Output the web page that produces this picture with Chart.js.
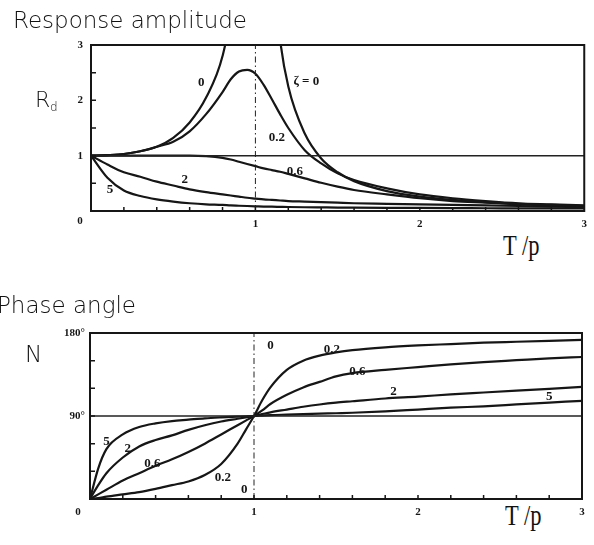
<!DOCTYPE html>
<html>
<head>
<meta charset="utf-8">
<script src="https://cdn.jsdelivr.net/npm/chart.js@4.4.1/dist/chart.umd.min.js"></script>
<style>
  body { margin: 0; background: #fff; width: 594px; height: 545px; position: relative; overflow: hidden; }
  canvas { position: absolute; left: 0; }
  .txt { position: absolute; white-space: nowrap; line-height: 1; color: #111; will-change: transform;
         font-family: "DejaVu Sans", sans-serif; font-weight: 200; }
  .wq { position: absolute; white-space: nowrap; line-height: 1; color: #111;
        font-family: "Liberation Serif", serif; font-size: 30px; transform: scaleX(0.75); transform-origin: left top; }
</style>
</head>
<body>
<div class="txt" style="left:13px;top:9px;font-size:23px">Response amplitude</div>
<div class="txt" style="left:35px;top:89px;font-size:22px">R</div>
<div class="txt" style="left:50px;top:101px;font-size:12px">d</div>
<div class="wq" style="left:503px;top:230px">T /p</div>
<canvas id="amp" width="594" height="270" style="top:0"></canvas>

<div class="txt" style="left:-3px;top:294px;font-size:23px">Phase angle</div>
<div class="txt" style="left:25px;top:343px;font-size:23px">N</div>
<div class="wq" style="left:505px;top:500px">T /p</div>
<canvas id="phase" width="594" height="275" style="top:270px"></canvas>

<script>
// frequency ratio (x axis), shared tick labels
const xTickValues = [1, 2, 3];

// Response amplitude Rd
const ampRatio  = [0, 0.1, 0.2, 0.3, 0.4, 0.5, 0.6, 0.7, 0.8, 0.85, 0.9, 0.95, 1.0, 1.05, 1.1, 1.15, 1.2, 1.3, 1.4, 1.5, 1.6, 1.8, 2.0, 2.2, 2.4, 2.6, 2.8, 3.0];
const ampZeta0  = [1, 1.01, 1.03, 1.08, 1.16, 1.32, 1.6, 2.05, 2.8, 3.6, 5.3, null, null, null, 4.8, 3.1, 2.25, 1.4, 0.95, 0.7, 0.54, 0.36, 0.26, 0.2, 0.16, 0.13, 0.11, 0.09];
const ampZeta02 = [1, 1.01, 1.03, 1.08, 1.16, 1.25, 1.44, 1.75, 2.15, 2.38, 2.52, 2.55, 2.48, 2.28, 2.02, 1.75, 1.5, 1.1, 0.86, 0.68, 0.56, 0.41, 0.3, 0.23, 0.18, 0.14, 0.12, 0.1];
const ampZeta06 = [1, 1, 1, 1, 1, 1, 1, 0.99, 0.96, 0.93, 0.89, 0.85, 0.81, 0.77, 0.74, 0.71, 0.67, 0.59, 0.51, 0.44, 0.38, 0.3, 0.23, 0.18, 0.15, 0.12, 0.1, 0.09];
const ampZeta2  = [1, 0.84, 0.7, 0.62, 0.53, 0.46, 0.39, 0.34, 0.3, 0.28, 0.26, 0.24, 0.225, 0.21, 0.2, 0.19, 0.18, 0.17, 0.16, 0.15, 0.14, 0.13, 0.12, 0.11, 0.1, 0.09, 0.08, 0.07];
const ampZeta5  = [1, 0.6, 0.37, 0.27, 0.21, 0.17, 0.14, 0.12, 0.11, 0.1, 0.095, 0.09, 0.085, 0.08, 0.078, 0.075, 0.072, 0.068, 0.065, 0.062, 0.06, 0.057, 0.055, 0.053, 0.05, 0.048, 0.046, 0.045];
const ampTicks  = [1, 2, 3];
const ampLabelText = ['0', 'ζ = 0', '0.2', '0.6', '2', '5'];
const ampLabelX    = [0.67, 1.31, 1.13, 1.24, 0.57, 0.115];
const ampLabelY    = [2.32, 2.34, 1.33, 0.72, 0.56, 0.38];

// Phase angle in degrees
const phaseRatio  = [0, 0.05, 0.1, 0.2, 0.3, 0.4, 0.5, 0.6, 0.7, 0.8, 0.9, 0.95, 1.0, 1.05, 1.1, 1.2, 1.3, 1.4, 1.5, 1.6, 1.8, 2.0, 2.2, 2.4, 2.6, 2.8, 3.0];
const phaseZeta02 = [0, 1, 2.5, 5, 7.5, 11, 15, 19, 26, 38, 60, 75, 90, 107, 121, 140, 150, 155.5, 159, 161.5, 164.5, 166.5, 168, 169.5, 170.5, 171.5, 172.5];
const phaseZeta06 = [0, 5, 10, 20, 28, 36, 43, 51, 60, 70, 80, 85, 90, 96, 103, 113, 121, 127, 133, 136.5, 140, 143, 146, 148.5, 150.5, 152.5, 154];
const phaseZeta2  = [0, 15, 28, 45, 57, 64, 69, 75, 80, 84, 87, 88.5, 90, 92, 94, 97, 100, 102.5, 104.5, 106, 109, 111, 113.5, 115.5, 117.5, 119.5, 121.5];
const phaseZeta5  = [0, 33, 54, 70, 78, 82, 84.5, 86, 87.5, 88.5, 89.3, 89.7, 90, 90.5, 91, 91.5, 92, 92.5, 93, 93.5, 95, 97, 99, 100.5, 102.5, 104.5, 106.5];
const phaseZeta0X = [0, 1, 1, 1, 3];
const phaseZeta0  = [0, 0, null, 180, 180];
const phaseTicks  = [90, 180];
const phaseLabelText = ['0', '0.2', '0.6', '2', '5', '5', '2', '0.6', '0.2', '0'];
const phaseLabelX    = [1.10, 1.475, 1.63, 1.85, 2.80, 0.10, 0.23, 0.38, 0.81, 0.94];
const phaseLabelY    = [166, 162, 138, 116, 111, 62, 55, 38, 23, 10];

const ink = '#161616';
const tickFont = { family: 'Liberation Serif', weight: 'bold', size: 11 };

function pts(xs, ys) {
  return xs.map((x, i) => ({ x: x, y: ys[i] }));
}

function curve(xs, ys) {
  return { data: pts(xs, ys), borderColor: ink, borderWidth: 2.2, pointRadius: 0,
           cubicInterpolationMode: 'monotone', spanGaps: false };
}

function refLine(xs, ys, dash) {
  return { data: pts(xs, ys), borderColor: '#222', borderWidth: dash ? 1 : 1.5,
           borderDash: dash || [], pointRadius: 0, tension: 0 };
}

// frame, small inward ticks, curve labels and the shared origin "0"
const figurePlugin = {
  id: 'figure',
  afterDatasetsDraw(chart, args, opts) {
    const { ctx, chartArea: a, scales: { x, y } } = chart;
    ctx.save();
    ctx.strokeStyle = ink;
    ctx.lineWidth = 2;
    ctx.strokeRect(a.left, a.top, a.right - a.left, a.bottom - a.top);

    ctx.lineWidth = 1.5;
    ctx.beginPath();
    for (let v = opts.xStep; v < x.max - 1e-6; v += opts.xStep) {
      const px = x.getPixelForValue(v);
      ctx.moveTo(px, a.bottom);
      ctx.lineTo(px, a.bottom - 4);
    }
    for (let v = opts.yStep; v < y.max - 1e-6; v += opts.yStep) {
      const py = y.getPixelForValue(v);
      ctx.moveTo(a.left, py);
      ctx.lineTo(a.left + 5, py);
    }
    ctx.stroke();

    ctx.fillStyle = ink;
    ctx.textAlign = 'center';
    ctx.textBaseline = 'middle';
    ctx.font = 'bold 13px "Liberation Serif"';
    opts.text.forEach((t, i) => {
      ctx.fillText(t, x.getPixelForValue(opts.lx[i]), y.getPixelForValue(opts.ly[i]));
    });
    ctx.font = 'bold 11px "Liberation Serif"';
    ctx.fillText('0', x.getPixelForValue(0) - opts.originDx, a.bottom + opts.originDy);
    ctx.restore();
  }
};

function makeChart(id, datasets, o) {
  return new Chart(document.getElementById(id), {
    type: 'line',
    data: { datasets: datasets },
    options: {
      responsive: false,
      animation: false,
      layout: { padding: { top: o.top, right: o.right, left: 0, bottom: 0 } },
      plugins: {
        legend: { display: false },
        tooltip: { enabled: false },
        figure: o.figure
      },
      scales: {
        x: {
          type: 'linear', min: 0, max: 3,
          afterBuildTicks: s => { s.ticks = xTickValues.map(v => ({ value: v })); },
          afterFit: s => { s.height = o.xRoom; },
          grid: { display: false, drawTicks: false },
          border: { display: false },
          ticks: { color: ink, font: tickFont, padding: 7, maxRotation: 0 }
        },
        y: {
          type: 'linear', min: 0, max: o.yMax,
          afterBuildTicks: s => { s.ticks = o.yTicks.map(v => ({ value: v })); },
          afterFit: s => { s.width = o.yRoom; },
          grid: { display: false, drawTicks: false },
          border: { display: false },
          ticks: { color: ink, font: tickFont, padding: o.yPad, callback: o.yFmt }
        }
      }
    },
    plugins: [figurePlugin]
  });
}

makeChart('amp', [
  refLine([0, 3], [1, 1]),
  refLine([1, 1], [0, 3], [6, 3, 1.5, 3]),
  curve(ampRatio, ampZeta0),
  curve(ampRatio, ampZeta02),
  curve(ampRatio, ampZeta06),
  curve(ampRatio, ampZeta2),
  curve(ampRatio, ampZeta5)
], {
  top: 45, right: 9, xRoom: 59, yRoom: 91, yPad: 8, yMax: 3, yTicks: ampTicks,
  yFmt: v => String(v),
  figure: { xStep: 0.2, yStep: 0.5, text: ampLabelText, lx: ampLabelX, ly: ampLabelY, originDx: 11, originDy: 10 }
});

makeChart('phase', [
  refLine([0, 3], [90, 90]),
  refLine([1, 1], [0, 180], [6, 3, 1.5, 3]),
  curve(phaseZeta0X, phaseZeta0),
  curve(phaseRatio, phaseZeta02),
  curve(phaseRatio, phaseZeta06),
  curve(phaseRatio, phaseZeta2),
  curve(phaseRatio, phaseZeta5)
], {
  top: 63, right: 12, xRoom: 46, yRoom: 90, yPad: 5, yMax: 180, yTicks: phaseTicks,
  yFmt: v => v + '°',
  figure: { xStep: 0.2, yStep: 30, text: phaseLabelText, lx: phaseLabelX, ly: phaseLabelY, originDx: 12, originDy: 13 }
});
</script>
</body>
</html>
